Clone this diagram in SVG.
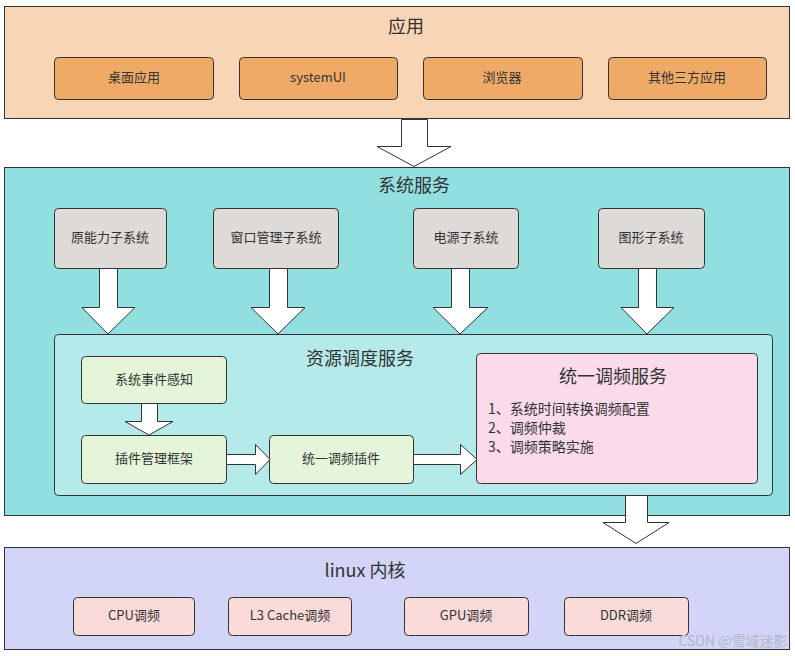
<svg xmlns="http://www.w3.org/2000/svg" width="795" height="656" viewBox="0 0 795 656">
<style>
text{font-family:"Noto Sans CJK SC","Liberation Sans",sans-serif;fill:#333;text-anchor:middle;dominant-baseline:central}
.lay{stroke:#333;stroke-width:1}
.n{stroke:#333;stroke-width:1}
.t{font-size:13px}
.h{font-size:18px}
.l{font-size:14px;text-anchor:start}
.arr{fill:#fff;stroke:#333;stroke-width:1}
</style>
<rect width="795" height="656" fill="#fff"/>
<g id="layer-app">
<rect class="lay" x="4.5" y="6.5" width="785" height="112" fill="#F8D5B5"/>
<text class="h" x="406" y="24.5">应用</text>
</g>
<g id="n-desktop"><rect class="n" x="54.5" y="57.5" width="159" height="42" rx="4" fill="#F0AA68"/><text class="t" x="134" y="76.5">桌面应用</text></g>
<g id="n-systemui"><rect class="n" x="239.5" y="57.5" width="158" height="42" rx="4" fill="#F0AA68"/><text class="t" x="318" y="76.5">systemUI</text></g>
<g id="n-browser"><rect class="n" x="423.5" y="57.5" width="159" height="42" rx="4" fill="#F0AA68"/><text class="t" x="502" y="76.5">浏览器</text></g>
<g id="n-other"><rect class="n" x="608.5" y="57.5" width="158" height="42" rx="4" fill="#F0AA68"/><text class="t" x="687" y="76.5">其他三方应用</text></g>

<g id="layer-sys">
<rect class="lay" x="4.5" y="167.5" width="785" height="348" fill="#92DFE0"/>
<text class="h" x="414" y="183.5">系统服务</text>
</g>
<g id="n-sensor"><rect class="n" x="54.5" y="208.5" width="112" height="60" rx="4" fill="#DEDAD8"/><text class="t" x="110" y="236.5">原能力子系统</text></g>
<g id="n-window"><rect class="n" x="213.5" y="208.5" width="125" height="60" rx="4" fill="#DEDAD8"/><text class="t" x="276" y="236.5">窗口管理子系统</text></g>
<g id="n-power"><rect class="n" x="413.5" y="208.5" width="105" height="60" rx="4" fill="#DEDAD8"/><text class="t" x="466" y="236.5">电源子系统</text></g>
<g id="n-graphic"><rect class="n" x="598.5" y="208.5" width="106" height="60" rx="4" fill="#DEDAD8"/><text class="t" x="651" y="236.5">图形子系统</text></g>

<g id="n-res">
<rect class="n" x="54.5" y="334.5" width="718" height="161" rx="4" fill="#B5EAEA"/>
<text class="h" x="360" y="356.5">资源调度服务</text>
</g>
<g id="n-event"><rect class="n" x="81.5" y="356.5" width="145" height="47" rx="4" fill="#E4F5D9"/><text class="t" x="154" y="378.5">系统事件感知</text></g>
<g id="n-plugin"><rect class="n" x="81.5" y="435.5" width="145" height="48" rx="4" fill="#E4F5D9"/><text class="t" x="154" y="457.5">插件管理框架</text></g>
<g id="n-freqplugin"><rect class="n" x="269.5" y="435.5" width="144" height="48" rx="4" fill="#E4F5D9"/><text class="t" x="341" y="457.5">统一调频插件</text></g>
<g id="n-freqsvc">
<rect class="n" x="476.5" y="353.5" width="281" height="130" rx="4" fill="#FADAEB"/>
<text class="h" x="613" y="374.5">统一调频服务</text>
<text class="l" x="488" y="407.5">1、系统时间转换调频配置</text>
<text class="l" x="488" y="426.5">2、调频仲裁</text>
<text class="l" x="488" y="445.5">3、调频策略实施</text>
</g>

<g id="layer-linux">
<rect class="lay" x="4.5" y="547.5" width="785" height="102" fill="#D2D5F7"/>
<text class="h" x="365" y="568.5">linux 内核</text>
</g>
<g id="n-cpu"><rect class="n" x="73.5" y="597.5" width="121" height="38" rx="4" fill="#FADBD9"/><text class="t" x="134" y="614.5">CPU调频</text></g>
<g id="n-l3"><rect class="n" x="228.5" y="597.5" width="123" height="38" rx="4" fill="#FADBD9"/><text class="t" x="290" y="614.5">L3 Cache调频</text></g>
<g id="n-gpu"><rect class="n" x="404.5" y="597.5" width="124" height="38" rx="4" fill="#FADBD9"/><text class="t" x="466" y="614.5">GPU调频</text></g>
<g id="n-ddr"><rect class="n" x="564.5" y="597.5" width="124" height="38" rx="4" fill="#FADBD9"/><text class="t" x="626" y="614.5">DDR调频</text></g>

<g id="connectors">
<polygon class="arr" points="401.5,119.5 427.5,119.5 427.5,146.5 451,146.5 414,166.5 377,146.5 401.5,146.5"/>
<polygon class="arr" points="99.5,268.5 117.5,268.5 117.5,307.5 135,307.5 108,334 82,307.5 99.5,307.5"/>
<polygon class="arr" points="269.5,268.5 287.5,268.5 287.5,307.5 305,307.5 278,334 251,307.5 269.5,307.5"/>
<polygon class="arr" points="451.5,268.5 469.5,268.5 469.5,307.5 488,307.5 460,334 433,307.5 451.5,307.5"/>
<polygon class="arr" points="638.5,268.5 656.5,268.5 656.5,307.5 674,307.5 647,334 621,307.5 638.5,307.5"/>
<polygon class="arr" points="141.5,403.5 157.5,403.5 157.5,421.5 173,421.5 149,435 125,421.5 141.5,421.5"/>
<polygon class="arr" points="226.5,454.5 255.5,454.5 255.5,444.5 270,459.5 255.5,474.5 255.5,464.5 226.5,464.5"/>
<polygon class="arr" points="413.5,454.5 460.5,454.5 460.5,444.5 477,459.5 460.5,474.5 460.5,464.5 413.5,464.5"/>
<polygon class="arr" points="625.5,495.5 647.5,495.5 647.5,522.5 669,522.5 636,543.5 603,522.5 625.5,522.5"/>
</g>
<text x="733" y="640" style="font-size:14px;fill:#b4b6c6">CSDN @雪域迷影</text>
</svg>
